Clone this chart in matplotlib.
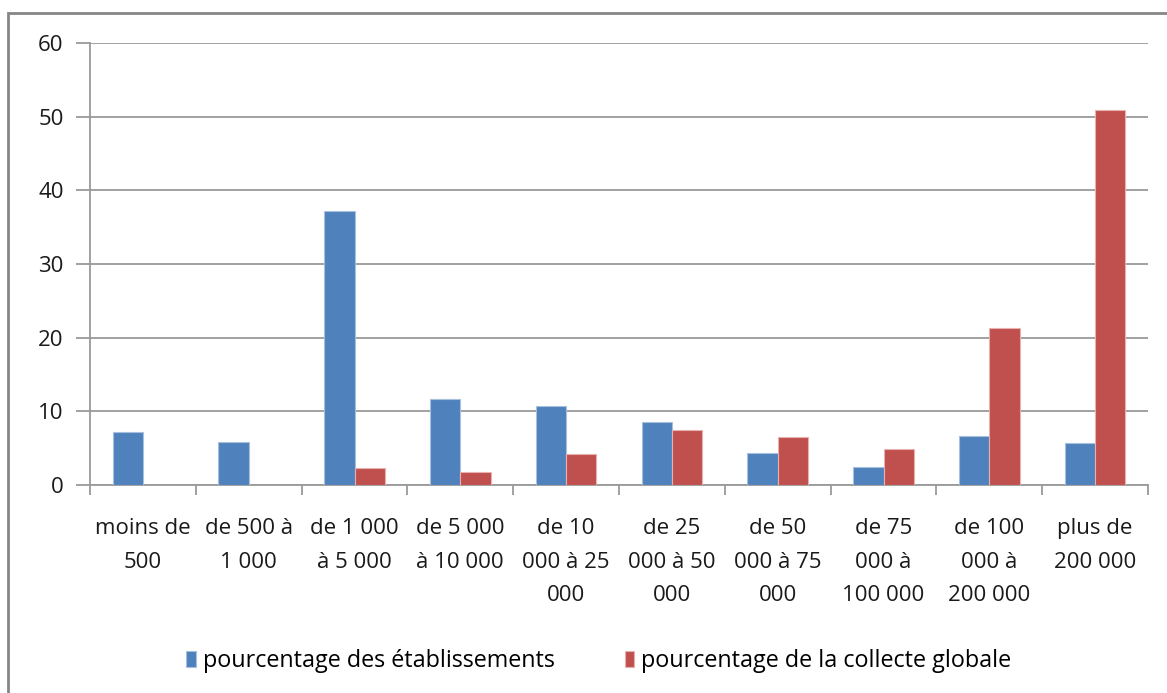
import matplotlib.pyplot as plt
import numpy as np
from matplotlib.patches import Rectangle

categories = [
    'moins de\n500',
    'de 500 à\n1 000',
    'de 1 000\nà 5 000',
    'de 5 000\nà 10 000',
    'de 10\n000 à 25\n000',
    'de 25\n000 à 50\n000',
    'de 50\n000 à 75\n000',
    'de 75\n000 à\n100 000',
    'de 100\n000 à\n200 000',
    'plus de\n200 000',
]
etablissements = [7.2, 5.8, 37.2, 11.7, 10.7, 8.6, 4.4, 2.5, 6.7, 5.7]
collecte = [0, 0, 2.3, 1.8, 4.2, 7.5, 6.5, 4.9, 21.3, 50.9]
yticks = [0, 10, 20, 30, 40, 50, 60]

plt.rcParams['font.family'] = ['Open Sans', 'DejaVu Sans']
fs = 16

fig = plt.figure(figsize=(11.67, 6.93), dpi=100)
W, H = 1167, 693
ax = fig.add_axes([90 / W, 1 - 485 / H, (1148 - 90) / W, (485 - 43) / H])

# outer chart-area border (runs off the right and bottom edges)
fig.patches.append(Rectangle((8 / W, -0.05), 1.1, 1 - 13 / H + 0.05,
                             transform=fig.transFigure, fill=False,
                             edgecolor='#868686', linewidth=2))

x = np.arange(len(categories))
w = 1 / 3.5
ax.bar(x - w / 2, etablissements, w, color='#4F81BD', edgecolor='#A7C0DE',
       linewidth=0.8, label='pourcentage des établissements', zorder=3)
ax.bar(x + w / 2, collecte, w, color='#C0504D', edgecolor='#E6B1B0',
       linewidth=0.8, label='pourcentage de la collecte globale', zorder=3)

ax.set_xlim(-0.5, len(categories) - 0.5)
ax.set_ylim(0, 60)
ax.set_yticks(yticks)
ax.yaxis.grid(True, color='#9A9A9A', linewidth=1.3, zorder=0)
ax.set_xticks(x)
ax.set_xticklabels(categories, fontsize=fs, linespacing=1.78, color='#1a1a1a')
ax.tick_params(axis='x', length=0, pad=24)
ax.set_xticks(np.arange(-0.5, len(categories)), minor=True)
ax.tick_params(axis='x', which='minor', length=7, color='#9A9A9A', width=1.3)
ax.tick_params(axis='y', length=10, color='#9A9A9A', width=1.3, labelsize=fs,
               pad=9, labelcolor='#1a1a1a')
for s in ['top', 'right']:
    ax.spines[s].set_visible(False)
for s in ['left', 'bottom']:
    ax.spines[s].set_color('#9A9A9A')
    ax.spines[s].set_linewidth(1.3)

fig.legend(loc='center', bbox_to_anchor=(0.513, 1 - 661 / H), ncol=2,
           frameon=False, fontsize=16.8, handlelength=0.4, handleheight=0.7,
           handletextpad=0.3, columnspacing=3.0)

fig.savefig('out.png', dpi=100, facecolor='white')
